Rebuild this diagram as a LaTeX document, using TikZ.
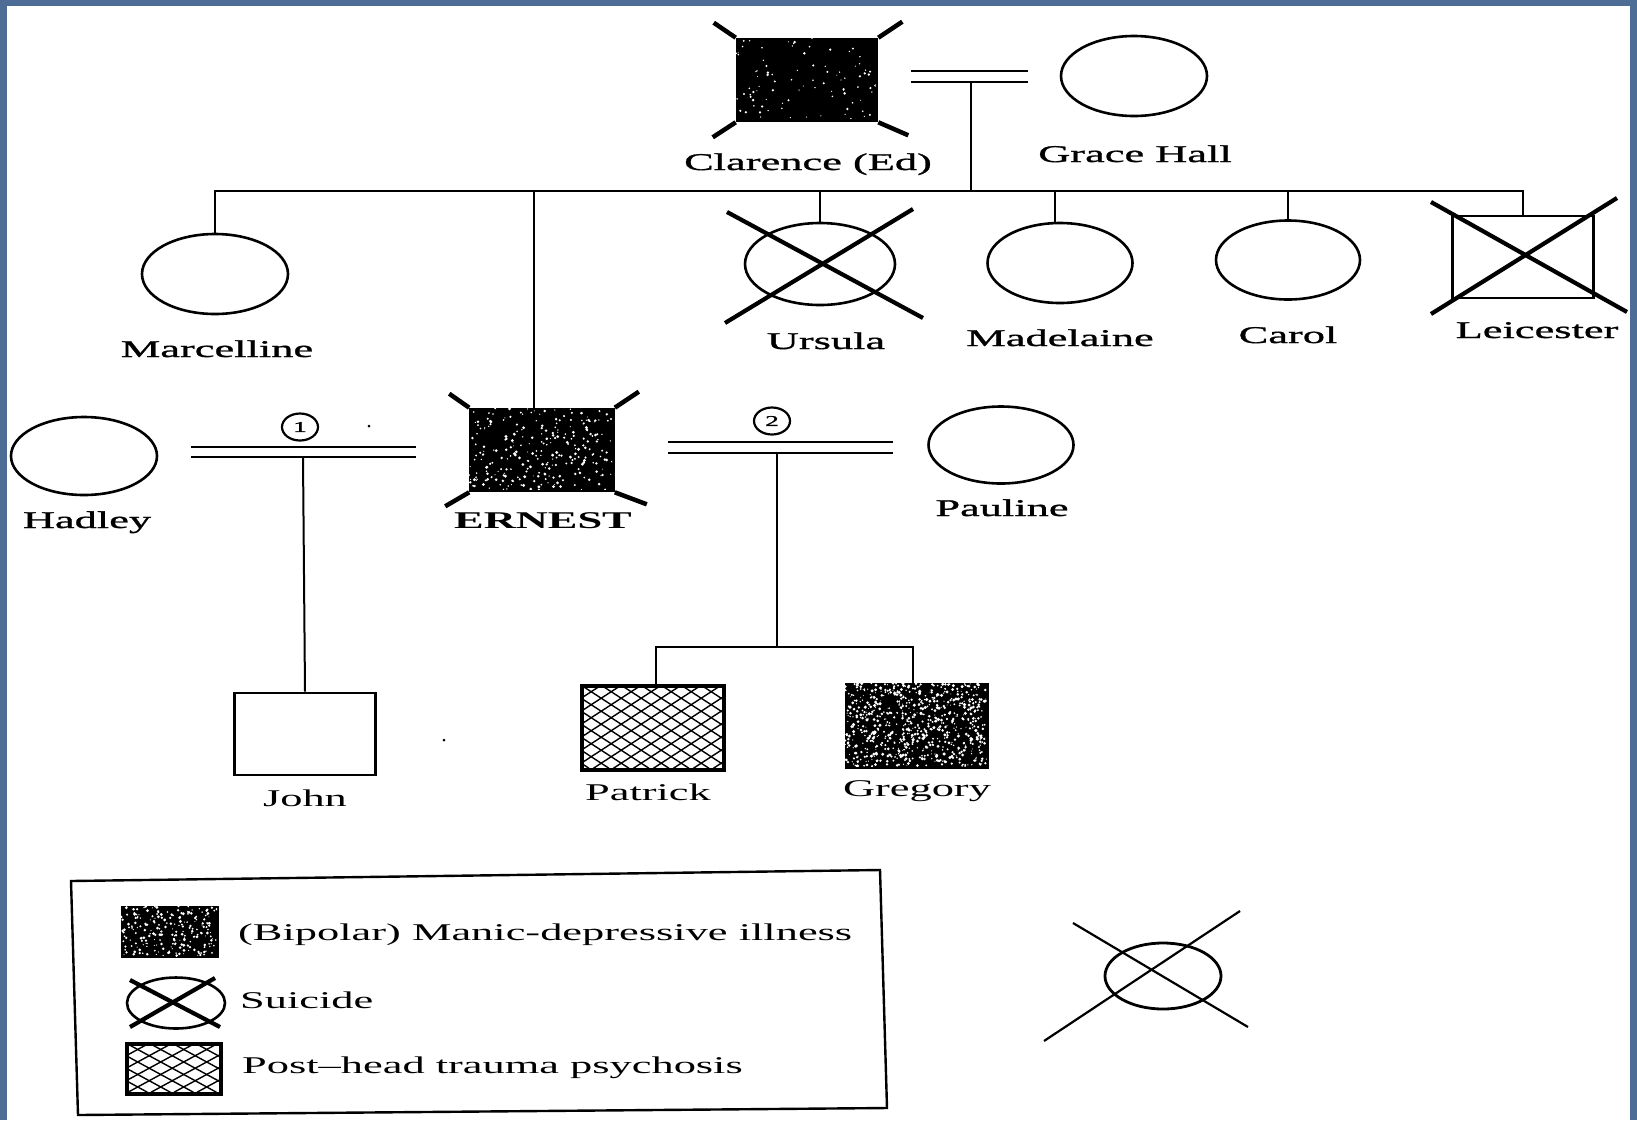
\documentclass[tikz,border=0pt]{standalone}
\usepackage{fontspec}
\setmainfont{Liberation Serif}[FakeStretch=1.85]
\newfontfamily\namefont{Liberation Serif}[FakeStretch=1.85,FakeBold=1.2]
\usetikzlibrary{shapes.geometric,calc}
\definecolor{frameblue}{HTML}{4E6D96}
\newcommand\speckle[5]{%
  \begin{scope}[shift={(#1.north west)}]
    \clip (0,0) rectangle (#2,#3);
    \foreach \i in {1,...,#4}
      \fill[white] ({rnd*#2},{rnd*#3}) circle[radius={0.5pt+#5*rnd}];
  \end{scope}}
\newcommand\xhatch[5]{%
  \begin{scope}[shift={(#1.north west)}]
    \clip (0,0) rectangle (#2,#3);
    \pgfmathsetmacro\hdx{#3*#4/#5}
    \foreach \k in {-9,...,16} {
      \draw[line width=1.4pt] ({\k*#4},0) -- ({\k*#4+\hdx},#3);
      \draw[line width=1.4pt] ({\k*#4},0) -- ({\k*#4-\hdx},#3);
    }
  \end{scope}
  \draw[line width=2.6pt] (#1.north west) rectangle (#1.south east);}
\begin{document}
\begin{tikzpicture}[x=1pt,y=-1pt,
  fem/.style={ellipse, draw, line width=2.6pt, inner sep=0pt, minimum width=146pt, minimum height=80pt},
  male/.style={rectangle, draw, line width=2.6pt, inner sep=0pt, minimum width=141pt, minimum height=82pt},
  lbl/.style={font=\namefont\fontsize{24}{28}\selectfont, inner sep=0pt, anchor=base},
  lowlbl/.style={font=\fontsize{24}{28}\selectfont, inner sep=0pt, anchor=base},
  leglbl/.style={font=\fontsize{24}{28}\selectfont, inner sep=0pt, anchor=base west},
  numc/.style={ellipse, draw, line width=2.2pt, inner sep=0pt, minimum width=36pt, minimum height=27pt, font=\namefont\fontsize{15}{16}\selectfont},
  link/.style={line width=2pt},
  marriage/.style={line width=2pt, double, double distance=8.5pt},
  slash/.style={line width=4.5pt},
  xline/.style={line width=4.2pt},
  thinx/.style={line width=2.2pt}]
\pgfmathsetseed{7}
\useasboundingbox (0,0) rectangle (1637,1120);
\fill[frameblue] (0,0) rectangle (1637,1120);
\fill[white] (7,6) rectangle (1630,1120);

% ---- generation I
\node[male, fill=black, minimum width=140pt] (clar) at (807,80) {};
\speckle{clar}{140}{82}{90}{0.9pt}
\draw[slash] (clar.north west) -- ++(-22,-15);
\draw[slash] (clar.north east) -- ++(24,-16);
\draw[slash] (clar.south west) -- ++(-23,15);
\draw[slash] (clar.south east) -- ++(30,13);
\node[fem] (grace) at (1134,76) {};
\node[lbl] (clarL) at (808,170) {Clarence (Ed)};
\node[lbl] (graceL) at (1135,162) {Grace Hall};
\coordinate (cgL) at (911,76.5);
\coordinate (cgR) at (1028,76.5);
\draw[marriage] (cgL) -- (cgR);
\coordinate (cgD) at (971,82);
\coordinate (sib) at (0,191);

% ---- generation II
\node[fem] (marc) at (215,274) {};
\node[lbl] (marcL) at (217,357) {Marcelline};
\node[male, fill=black, minimum width=143pt] (ern) at (542,450) {};
\speckle{ern}{143}{82}{260}{1.1pt}
\draw[slash] (ern.north west) -- ++(-20,-14);
\draw[slash] (ern.north east) -- ++(24,-16);
\draw[slash] (ern.south west) -- ++(-24,14);
\draw[slash] (ern.south east) -- ++(32,12);
\node[lbl, font=\bfseries\fontsize{24}{28}\selectfont] (ernL) at (543,528) {ERNEST};
\node[fem, minimum width=150pt, minimum height=82pt] (urs) at (820,264) {};
\draw[xline] ($(urs)+(-93,-52)$) -- ($(urs)+(103,54)$);
\draw[xline] ($(urs)+(93,-55)$) -- ($(urs)+(-95,59)$);
\node[lbl] (ursL) at (826,349) {Ursula};
\node[fem, minimum width=145pt] (mad) at (1060,263) {};
\node[lbl] (madL) at (1060,346) {Madelaine};
\node[fem, minimum width=144pt, minimum height=79pt] (car) at (1288,260) {};
\node[lbl] (carL) at (1288,343) {Carol};
\node[male] (leic) at (1523,257) {};
\draw[xline] ($(leic)+(-92,-55)$) -- ($(leic)+(104,55)$);
\draw[xline] ($(leic)+(94,-59)$) -- ($(leic)+(-92,57)$);
\node[lbl] (leicL) at (1537,338) {Leicester};

\draw[link] (cgD) -- (cgD |- sib);
\draw[link] (marc.north) |- (sib -| leic.north) -- (leic.north);
\draw[link] ($(ern.north)+(-8,0)$) -- ($(ern.north |- sib)+(-8,0)$);
\draw[link] (urs.north) -- (urs.north |- sib);
\draw[link] ($(mad.north)+(-5,0)$) -- ($(mad.north |- sib)+(-5,0)$);
\draw[link] (car.north) -- (car.north |- sib);

% ---- spouses of Ernest
\node[fem, minimum height=78pt] (had) at (84,456) {};
\node[lbl] (hadL) at (87,528) {Hadley};
\node[fem, minimum width=145pt, minimum height=77pt] (paul) at (1001,445) {};
\node[lbl] (paulL) at (1002,516) {Pauline};
\coordinate (m1L) at (191,452);
\coordinate (m1R) at (416,452);
\draw[marriage] (m1L) -- (m1R);
\node[numc] (n1) at (300,427) {1};
\fill (369,426) circle[radius=1.5pt];
\coordinate (m2L) at (668,447.5);
\coordinate (m2R) at (893,447.5);
\draw[marriage] (m2L) -- (m2R);
\node[numc] (n2) at (772,421) {2};

% ---- generation III
\node[male, minimum height=82pt] (john) at (305,734) {};
\node[lowlbl] (johnL) at (305,806) {John};
\fill (444,740) circle[radius=1.5pt];
\coordinate (m1D) at (303,458);
\draw[link] (m1D) -- (john.north);
\node[male, minimum height=83pt] (pat) at (653,728) {};
\xhatch{pat}{141}{83}{20}{13}
\node[lowlbl] (patL) at (648,800) {Patrick};
\node[male, fill=black, minimum width=142pt, minimum height=83pt] (greg) at (917,726) {};
\speckle{greg}{142}{83}{750}{1.2pt}
\node[lowlbl] (gregL) at (917,796) {Gregory};
\coordinate (s2) at (0,647);
\coordinate (m2D) at (777,452);
\draw[link] (m2D) -- (m2D |- s2);
\draw[link] ($(pat.north)+(3,0)$) |- ($(s2 -| greg.north)+(-4,0)$) -- ($(greg.north)+(-4,0)$);

% ---- legend
\draw[line width=2.4pt] (71,881) -- (880,870) -- (887,1108) -- (78,1115) -- cycle;
\node[rectangle, fill=black, draw, line width=2pt, inner sep=0pt, minimum width=96pt, minimum height=50pt] (lgBip) at (170,932) {};
\speckle{lgBip}{96}{50}{220}{1.1pt}
\node[leglbl] (lgBipL) at (238,940) {(Bipolar) Manic-depressive illness};
\node[ellipse, draw, line width=2.6pt, inner sep=0pt, minimum width=98pt, minimum height=51pt] (lgSui) at (176,1003) {};
\draw[xline] ($(lgSui)+(-46,-23)$) -- ($(lgSui)+(44,24)$);
\draw[xline] ($(lgSui)+(39,-25)$) -- ($(lgSui)+(-46,24)$);
\node[leglbl] (lgSuiL) at (240,1008) {Suicide};
\node[rectangle, draw, line width=2.6pt, inner sep=0pt, minimum width=93pt, minimum height=49pt] (lgXh) at (174,1069) {};
\xhatch{lgXh}{93}{49}{23}{12.5}
\node[leglbl] (lgXhL) at (242,1073) {Post--head trauma psychosis};

% ---- stray suicide symbol
\node[ellipse, draw, line width=2.8pt, inner sep=0pt, minimum width=116pt, minimum height=66pt] (sym) at (1163,976) {};
\draw[thinx] ($(sym)+(-90,-53)$) -- ($(sym)+(85,51)$);
\draw[thinx] ($(sym)+(77,-65)$) -- ($(sym)+(-119,65)$);
\end{tikzpicture}
\end{document}
